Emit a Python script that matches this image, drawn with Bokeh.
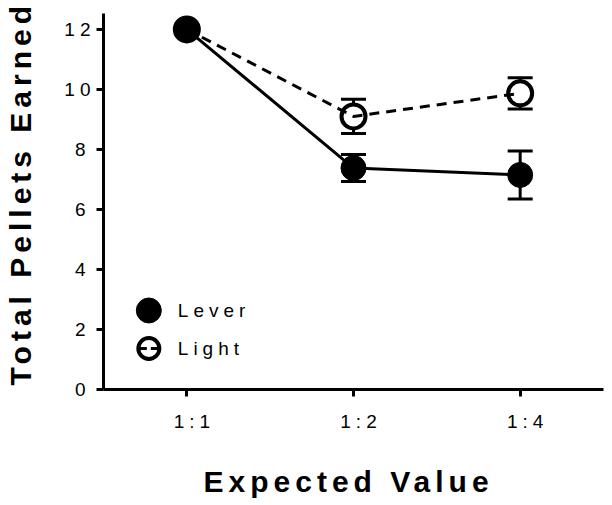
from bokeh.plotting import figure
from bokeh.models import (ColumnDataSource, Range1d, FixedTicker, Whisker, TeeHead,
                          Label, Title, InlineStyleSheet, LinearAxis)
from bokeh.embed import file_html
from bokeh.resources import INLINE

# ---- data ----
categories = ["1:1", "1:2", "1:4"]
lever_mean = [12.0, 7.38, 7.15]
lever_sem = [0.0, 0.45, 0.80]
light_mean = [12.0, 9.10, 9.87]
light_sem = [0.0, 0.57, 0.52]
y_ticks = [0, 2, 4, 6, 8, 10, 12]
series_names = ["Lever", "Light"]
x_title = "Expected Value"
y_title = "Total Pellets Earned"

xs = list(range(len(categories)))

def src(mean, sem):
    return ColumnDataSource(dict(
        x=xs, y=mean,
        upper=[m + s for m, s in zip(mean, sem)],
        lower=[m - s for m, s in zip(mean, sem)],
    ))

lever_src = src(lever_mean, lever_sem)
light_src = src(light_mean, light_sem)

FONT = "Liberation Sans"

p = figure(width=606, height=505, output_backend="svg", toolbar_location=None,
           x_range=Range1d(-0.5, 2.5), y_range=Range1d(0, 12.53),
           min_border_left=103, min_border_right=3, min_border_top=13, min_border_bottom=116)
p.stylesheets = [InlineStyleSheet(css=":host { letter-spacing: 5px; }")]
p.outline_line_color = None
p.grid.visible = False
p.background_fill_color = "white"
p.border_fill_color = "white"

# axes
for ax in (p.xaxis[0], p.yaxis[0]):
    ax.axis_line_width = 3
    ax.axis_line_color = "black"
    ax.major_tick_line_width = 3
    ax.major_tick_line_color = "black"
    ax.major_tick_out = 7
    ax.major_tick_in = 0
    ax.minor_tick_line_color = None
    ax.major_label_text_font = FONT
    ax.major_label_text_font_size = "19px"
    ax.major_label_text_color = "black"

p.xaxis.ticker = FixedTicker(ticks=xs)
p.xaxis.major_label_overrides = {i: c for i, c in zip(xs, categories)}
p.xaxis.major_label_standoff = 14

p.yaxis.ticker = FixedTicker(ticks=y_ticks)
p.yaxis.major_label_standoff = 11

# invisible spacer axes between the real axes and the axis titles
def spacer(size, tick):
    return LinearAxis(ticker=FixedTicker(ticks=[tick]), axis_line_color=None,
                      major_tick_line_color=None, minor_tick_line_color=None,
                      major_tick_out=size, major_tick_in=0, major_label_standoff=0,
                      major_label_overrides={tick: ""}, major_label_text_font_size="0px")

p.add_layout(spacer(28, xs[0]), "below")
p.add_layout(spacer(22, y_ticks[0]), "left")

# axis titles
p.add_layout(Title(text=x_title, align="left", offset=100, standoff=4, vertical_align="top",
                   text_font=FONT, text_font_style="bold", text_font_size="30px",
                   text_color="black"), "below")
p.add_layout(Title(text=y_title, align="left", offset=4, standoff=2, vertical_align="top",
                   text_font=FONT, text_font_style="bold", text_font_size="30px",
                   text_color="black"), "left")

# error bars (under markers)
for s in (lever_src, light_src):
    w = Whisker(source=s, base="x", upper="upper", lower="lower", dimension="height",
                line_width=3, line_color="black", level="underlay",
                upper_head=TeeHead(size=25, line_width=3, line_color="black"),
                lower_head=TeeHead(size=25, line_width=3, line_color="black"))
    p.add_layout(w)

# markers
p.scatter("x", "y", source=light_src, marker="circle", size=24,
          fill_color="white", line_color="black", line_width=4)
p.scatter("x", "y", source=lever_src, marker="circle", size=25,
          fill_color="black", line_color="black", line_width=1)

# lines
p.line("x", "y", source=lever_src, line_color="black", line_width=3)
p.line("x", "y", source=light_src, line_color="black", line_width=3, line_dash="10 7")

# legend (manual)
leg_x = -0.228
leg_y = [2.633, 1.367]
p.scatter([leg_x], [leg_y[0]], marker="circle", size=25, fill_color="black", line_color="black")
p.scatter([leg_x], [leg_y[1]], marker="circle", size=21, fill_color="white",
          line_color="black", line_width=4)
p.segment([leg_x - 0.06], [leg_y[1]], [leg_x + 0.06], [leg_y[1]], line_color="black",
          line_width=3, line_dash="8 4")
for name, yy in zip(series_names, leg_y):
    p.add_layout(Label(x=-0.054, y=yy, text=name, text_font=FONT, text_font_size="19px",
                       text_baseline="middle", text_align="left", text_color="black"))

open("out.html", "w").write(file_html(p, INLINE))
